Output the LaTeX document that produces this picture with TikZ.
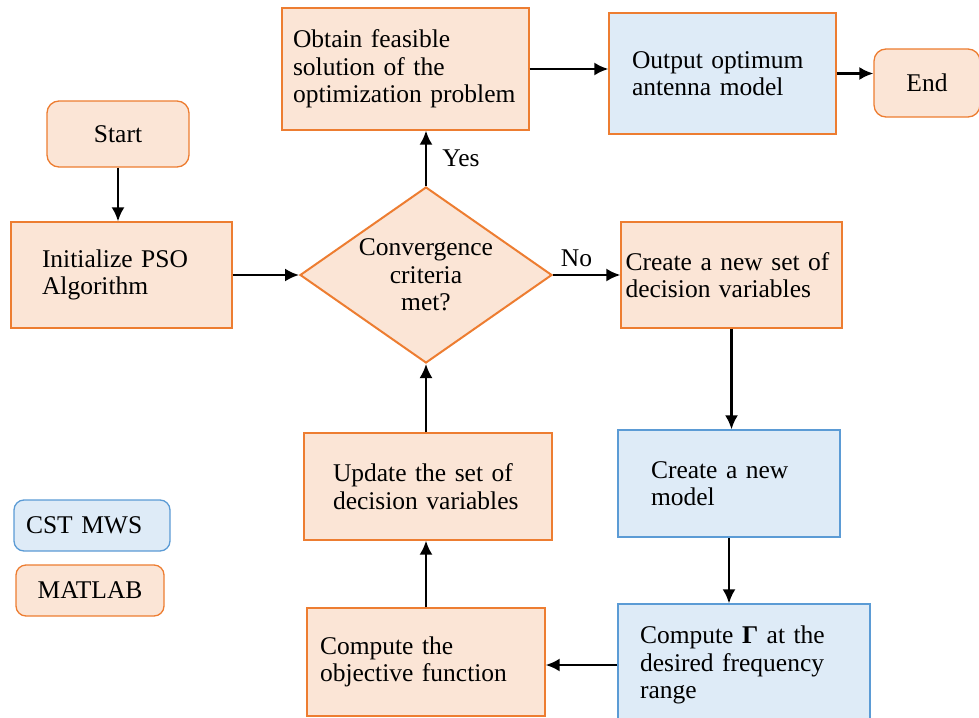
\documentclass[tikz,border=0pt]{standalone}
\usepackage{fontspec}
\setmainfont{Liberation Serif}
\usetikzlibrary{shapes,arrows,arrows.meta,positioning}
\definecolor{edgeorange}{HTML}{ED7D31}
\definecolor{fillorange}{HTML}{FBE5D6}
\definecolor{edgeblue}{HTML}{5B9BD5}
\definecolor{fillblue}{HTML}{DEEBF7}

\begin{document}
\begin{tikzpicture}[x=1pt,y=-1pt]

\tikzstyle{matlab} = [rectangle, align=left, draw=edgeorange, fill=fillorange, line width=1.3pt, font=\fontsize{25.5}{27.5}\selectfont]
\tikzstyle{cst} = [rectangle, align=left, draw=edgeblue, fill=fillblue, line width=1.3pt, font=\fontsize{25.5}{27.5}\selectfont]
\tikzstyle{terminal} = [matlab, rounded corners=12pt, align=center]
\tikzstyle{decision} = [diamond, aspect=1.43, inner sep=0pt, minimum width=252pt, minimum height=176pt, align=center, draw=edgeorange, fill=fillorange, line width=2pt, font=\fontsize{25.5}{27.5}\selectfont]
\tikzstyle{arrow} = [line width=2.3pt, -{Latex[length=14pt,width=13pt]}]

\clip (0,0) rectangle (979,717);

\node (start) [terminal, minimum width=142pt, minimum height=66pt] at (118,134) {Start};
\node (init) [matlab, minimum width=221pt, minimum height=106pt, text width=159pt] at (121.5,275) {Initialize PSO\\Algorithm};
\node (conv) [decision] at (426,275) {Convergence\\criteria\\met?};
\node (obtain) [matlab, minimum width=247pt, minimum height=122pt, text width=225pt] at (405.5,69) {Obtain feasible\\solution of the\\optimization problem};
\node (output) [cst, draw=edgeorange, minimum width=227pt, minimum height=121pt, text width=181pt] at (722.5,73.5) {Output optimum\\antenna model};
\node (end) [terminal, minimum width=106pt, minimum height=68pt] at (927,83) {End};
\node (newset) [matlab, inner xsep=2pt, minimum width=221pt, minimum height=106pt, text width=212pt] at (731.5,275) {Create a new set of\\decision variables};
\node (model) [cst, minimum width=222pt, minimum height=107pt, text width=156pt] at (729,483.5) {Create a new\\model};
\node (gamma) [cst, minimum width=252pt, minimum height=122pt, text width=208pt] at (744,665) {Compute \textbf{Γ} at the\\desired frequency\\range};
\node (objective) [matlab, minimum width=238pt, minimum height=108pt, text width=212pt] at (426,662) {Compute the\\objective function};
\node (update) [matlab, minimum width=248pt, minimum height=107pt, text width=190pt] at (428,486.5) {Update the set of\\decision variables};

\node (cstkey) [cst, rounded corners=10pt, minimum width=156pt, minimum height=51pt, text width=132pt] at (92,525.5) {CST MWS};
\node (matkey) [terminal, rounded corners=10pt, minimum width=148pt, minimum height=51pt] at (90,590.5) {MATLAB};

\draw [arrow] (start.south) -- (start.south |- init.north);
\draw [arrow] (init) -- (conv);
\draw [arrow] (conv.north) -- node[right=12pt, font=\fontsize{25.5}{27.5}\selectfont] {Yes} (conv.north |- obtain.south);
\draw [arrow] (conv.east) -- node[pos=0.35, above=4pt, font=\fontsize{25.5}{27.5}\selectfont] {No} (conv.east -| newset.west);
\draw [arrow] (obtain.east) -- (obtain.east -| output.west);
\draw [arrow] (output.east) -- (output.east -| end.west);
\draw [arrow] (newset.south) -- (newset.south |- model.north);
\draw [arrow] (model.south) -- (model.south |- gamma.north);
\draw [arrow] (gamma.west) -- (gamma.west -| objective.east);
\draw [arrow] (objective.north) -- (objective.north |- update.south);
\draw [arrow] (conv.south |- update.north) -- (conv.south);

\end{tikzpicture}
\end{document}
